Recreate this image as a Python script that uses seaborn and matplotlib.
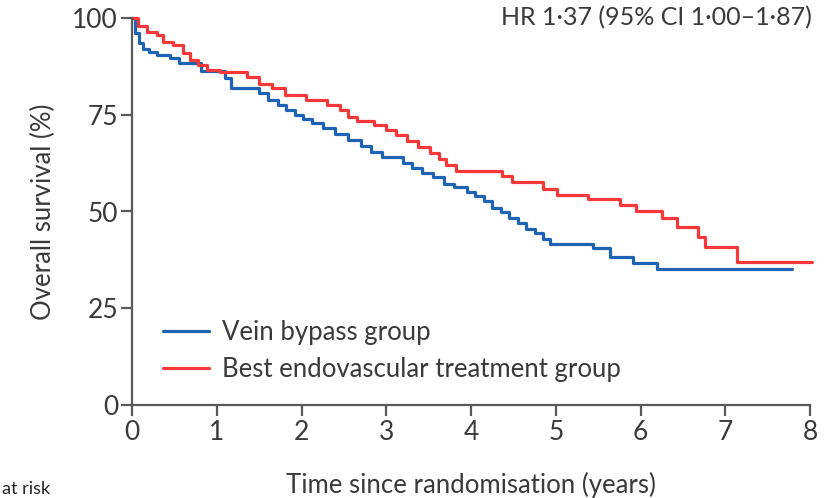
import matplotlib
matplotlib.use("Agg")
import matplotlib.pyplot as plt
import seaborn as sns
import pandas as pd
from matplotlib.lines import Line2D

# ---- data (Kaplan-Meier step points) ----
vein_time = [0, 0.04, 0.08, 0.13, 0.2, 0.3, 0.45, 0.55, 0.82, 1.1, 1.17, 1.5, 1.6, 1.72,
             1.82, 1.92, 2.02, 2.12, 2.25, 2.4, 2.55, 2.7, 2.82, 2.95, 3.2, 3.3, 3.42,
             3.55, 3.68, 3.8, 3.95, 4.05, 4.15, 4.25, 4.35, 4.45, 4.55, 4.65, 4.75,
             4.85, 4.93, 5.44, 5.64, 5.91, 6.19, 7.79]
vein_surv = [100, 96, 93.5, 92, 91.2, 90.4, 89.6, 88.4, 86.2, 84.5, 82.0, 80.5, 78.8, 77.5,
             76.2, 75.0, 74.0, 72.9, 71.5, 70.0, 68.5, 67.0, 65.5, 64.0, 62.5, 61.2, 60.0,
             58.8, 57.2, 56.3, 55.0, 54.0, 52.6, 51.0, 49.8, 48.2, 47.0, 45.5, 44.5,
             43.0, 41.6, 40.5, 38.2, 36.7, 35.2, 35.2]

endo_time = [0, 0.07, 0.18, 0.3, 0.37, 0.48, 0.6, 0.68, 0.78, 0.88, 1.04, 1.36, 1.5, 1.65,
             1.8, 2.05, 2.3, 2.45, 2.55, 2.65, 2.85, 3.0, 3.12, 3.25, 3.38, 3.52, 3.62,
             3.7, 3.82, 4.36, 4.48, 4.85, 5.01, 5.38, 5.76, 5.95, 6.25, 6.43, 6.68,
             6.76, 7.14, 8.02]
endo_surv = [100, 98, 96.4, 95.6, 93.8, 93.0, 91.0, 89.1, 87.9, 86.6, 86.0, 84.8, 83.0, 82.0,
             80.1, 78.8, 77.5, 76.2, 74.5, 73.5, 72.4, 71.0, 69.8, 68.2, 66.7, 65.0, 63.5,
             62.0, 60.5, 59.2, 57.6, 55.8, 54.3, 53.2, 51.7, 50.0, 48.3, 46.0, 43.4,
             40.7, 37.0, 37.0]

groups = ["Vein bypass group", "Best endovascular treatment group"]
x_ticks = [0, 1, 2, 3, 4, 5, 6, 7, 8]
y_ticks = [0, 25, 50, 75, 100]
hr_text = "HR 1\u00b737 (95% CI 1\u00b700\u20131\u00b787)"
x_label = "Time since randomisation (years)"
y_label = "Overall survival (%)"
risk_text = "at risk"

df = pd.concat([
    pd.DataFrame({"time": vein_time, "survival": vein_surv, "group": groups[0]}),
    pd.DataFrame({"time": endo_time, "survival": endo_surv, "group": groups[1]}),
], ignore_index=True)

sns.set_theme(style="white")
plt.rcParams["font.family"] = ["Lato", "DejaVu Sans"]

text_col = "#3a3a3a"
spine_col = "#5a5a5a"
palette = {groups[0]: "#1f63b5", groups[1]: "#f5383a"}

fig = plt.figure(figsize=(8.34, 4.98), dpi=100)
ax = fig.add_axes([132 / 834, 93 / 498, 678 / 834, 387 / 498])

sns.lineplot(data=df, x="time", y="survival", hue="group", palette=palette,
             estimator=None, sort=False, drawstyle="steps-post", linewidth=2.3,
             ax=ax, legend=False)
for ln in ax.lines:
    ln.set_clip_on(False)

ax.set_xlim(0, 8)
ax.set_ylim(0, 100)
ax.set_xticks(x_ticks)
ax.set_yticks(y_ticks)
ax.set_xticklabels([str(v) for v in x_ticks])
ax.set_yticklabels([str(v) for v in y_ticks])

for side in ["top", "right"]:
    ax.spines[side].set_visible(False)
for side in ["left", "bottom"]:
    ax.spines[side].set_color(spine_col)
    ax.spines[side].set_linewidth(1.6)

ax.tick_params(axis="both", which="both", direction="out", length=8, width=1.6,
               color=spine_col, labelsize=19, labelcolor=text_col)
ax.tick_params(axis="x", pad=3, bottom=True)
ax.tick_params(axis="y", pad=2, left=True)

ax.set_xlabel(x_label, fontsize=18.5, color=text_col, labelpad=19)
ax.set_ylabel(y_label, fontsize=18.5, color=text_col, labelpad=12)

handles = [Line2D([], [], color=palette[g], linewidth=2.3) for g in groups]
ax.legend(handles, groups, loc="lower left", bbox_to_anchor=(0.045, 0.06),
          frameon=False, fontsize=18.5, handlelength=1.8, handletextpad=0.5,
          labelspacing=0.45, borderpad=0, borderaxespad=0, labelcolor=text_col)

fig.text(812 / 834, 1 - 6 / 498, hr_text, ha="right", va="top",
         fontsize=18, color=text_col)
fig.text(2 / 834, 1 / 498, risk_text, ha="left", va="bottom",
         fontsize=13, color="#222222")

fig.savefig("out.png", dpi=100)
